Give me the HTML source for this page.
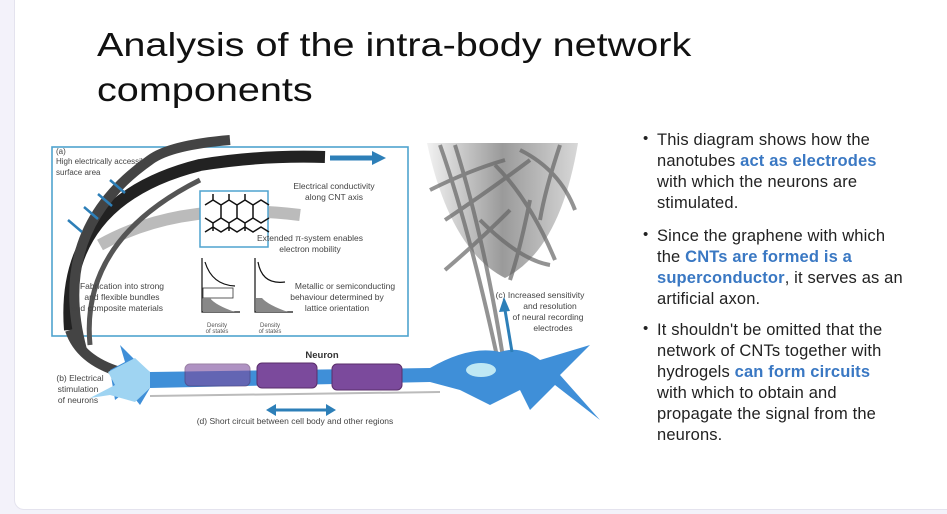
<!DOCTYPE html>
<html><head><meta charset="utf-8"><style>
html,body{margin:0;padding:0;}
body{width:947px;height:514px;background:#f3f2fa;position:relative;overflow:hidden;font-family:"Liberation Sans",sans-serif;}
.card{position:absolute;left:14px;top:-10px;width:960px;height:518px;background:#fff;border-radius:10px;border:1px solid #e4e3ee;}
.title{position:absolute;left:97px;top:22px;font-size:33px;line-height:45px;color:#111;transform:scaleX(1.2);transform-origin:0 0;white-space:nowrap;}
.txt{position:absolute;left:657px;font-size:16.5px;letter-spacing:0.15px;line-height:21px;color:#222;white-space:nowrap;}
.txt b{color:#3a78c3;}
.bul{position:absolute;left:643px;font-size:15px;color:#222;}
svg{position:absolute;left:0;top:0;}
</style></head><body>
<div class="card"></div>
<div class="title">Analysis of the intra-body network<br>components</div>

<div class="bul" style="top:130px">•</div>
<div class="txt" style="top:130px">This diagram shows how the<br>nanotubes <b>act as electrodes</b><br>with which the neurons are<br>stimulated.</div>
<div class="bul" style="top:226px">•</div>
<div class="txt" style="top:226px">Since the graphene with which<br>the <b>CNTs are formed is a<br>superconductor</b>, it serves as an<br>artificial axon.</div>
<div class="bul" style="top:320px">•</div>
<div class="txt" style="top:320px">It shouldn't be omitted that the<br>network of CNTs together with<br>hydrogels <b>can form circuits</b><br>with which to obtain and<br>propagate the signal from the<br>neurons.</div>

<svg width="947" height="514" viewBox="0 0 947 514" font-family="Liberation Sans, sans-serif">
<defs>
<linearGradient id="cone" x1="0" x2="1" y1="0" y2="0"><stop offset="0" stop-color="#f2f2f2"/><stop offset="0.5" stop-color="#9a9a9a"/><stop offset="1" stop-color="#d8d8d8"/></linearGradient>
</defs>
<path d="M427,143 L578,143 Q560,250 505,278 Q450,250 427,143Z" fill="url(#cone)"/>
<g stroke="#666" stroke-width="4" fill="none" opacity="0.7">
<path d="M440,145 Q470,230 500,370"/><path d="M455,145 Q485,240 505,370"/>
<path d="M430,190 Q470,170 505,160"/><path d="M445,220 Q490,190 530,160"/>
<path d="M445,270 Q480,240 510,210"/><path d="M520,150 Q560,170 575,210"/>
<path d="M495,165 Q530,200 555,260"/><path d="M480,220 Q520,260 550,265"/>
<path d="M530,200 Q520,250 510,280"/><path d="M560,145 Q545,190 540,220"/>
</g>
<rect x="52" y="147" width="356" height="189" fill="#fff" fill-opacity="0.6" stroke="#4fa3cf" stroke-width="1.6"/>
<path d="M100,245 Q180,200 300,215" stroke="#bbb" stroke-width="12" fill="none"/>
<g fill="none" stroke="#222">
<path d="M70,330 Q60,200 200,165 Q260,155 325,157" stroke-width="12"/>
<path d="M82,350 Q50,230 150,160 Q170,145 230,140" stroke-width="10" stroke="#444"/>
<path d="M90,345 Q80,240 200,180" stroke-width="5" stroke="#555"/>
<path d="M70,330 Q80,360 120,372" stroke-width="10" stroke="#444"/>
</g>
<path d="M330,158 L372,158" stroke="#2d7fb8" stroke-width="5"/><polygon points="372,151 386,158 372,165" fill="#2d7fb8"/>
<g stroke="#2d7fb8" stroke-width="2.5"><line x1="110" y1="180" x2="125" y2="193"/><line x1="98" y1="194" x2="112" y2="206"/><line x1="84" y1="207" x2="98" y2="219"/><line x1="68" y1="220" x2="82" y2="232"/></g>
<rect x="200" y="191" width="68" height="56" fill="#fff" stroke="#4fa3cf" stroke-width="1.5"/>
<g stroke="#111" stroke-width="1.5" fill="none">
<path d="M205,205 l8,-5 8,5 8,-5 8,5 8,-5 8,5 8,-5 8,5 M205,218 l8,5 8,-5 8,5 8,-5 8,5 8,-5 8,5 8,-5 M205,232 l8,-5 8,5 8,-5 8,5 8,-5 8,5 8,-5 8,5 M213,200v-6 M229,200v-6 M245,200v-6 M213,223v8 M229,223v8 M245,223v8 M221,205v13 M237,205v13 M253,205v13"/>
</g>
<g stroke="#111" fill="none" stroke-width="1.2">
<path d="M202,258 V312 H240"/><path d="M255,258 V312 H293"/>
<path d="M205,262 Q212,285 235,286"/><path d="M258,262 Q262,285 285,282"/>
</g>
<rect x="203" y="288" width="30" height="10" fill="none" stroke="#333" stroke-width="0.8"/>
<path d="M203,298 V312 H235 Q215,305 210,298Z" fill="#888"/>
<path d="M256,298 V312 H288 Q268,305 262,298Z" fill="#888"/>
<g font-size="8.5" fill="#444" text-anchor="middle">
<text x="122" y="289">Fabrication into strong</text><text x="122" y="300">and flexible bundles</text><text x="117" y="311">and composite materials</text>
<text x="334" y="189">Electrical conductivity</text><text x="334" y="200">along CNT axis</text>
<text x="310" y="241">Extended π-system enables</text><text x="310" y="252">electron mobility</text>
<text x="345" y="289">Metallic or semiconducting</text><text x="337" y="300">behaviour determined by</text><text x="337" y="311">lattice orientation</text>
<text x="540" y="298">(c) Increased sensitivity</text><text x="550" y="309">and resolution</text><text x="548" y="320">of neural recording</text><text x="553" y="331">electrodes</text>
<text x="80" y="381">(b) Electrical</text><text x="78" y="392">stimulation</text><text x="78" y="403">of neurons</text>
<text x="295" y="424">(d) Short circuit between cell body and other regions</text>
</g>
<g font-size="6" fill="#555" text-anchor="middle"><text x="217" y="327">Density</text><text x="217" y="333">of states</text><text x="270" y="327">Density</text><text x="270" y="333">of states</text></g>
<g font-size="8" fill="#444"><text x="56" y="154">(a)</text><text x="56" y="164">High electrically accessible</text><text x="56" y="175">surface area</text></g>
<text x="322" y="358" font-size="9.5" font-weight="bold" fill="#333" text-anchor="middle">Neuron</text>
<path d="M110,370 L125,362 L120,345 L135,360 L150,372 L430,368 Q470,345 500,352 Q520,345 540,360 L590,345 L560,375 L600,420 L555,385 L530,410 L520,390 L490,405 L460,390 L430,382 L150,388 L140,405 L128,390 L115,400 Z" fill="#3f8fd8"/>
<path d="M108,372 L135,358 L150,372 L150,388 L135,402 L110,395 L90,398 L115,385Z" fill="#9fd4f2"/>
<ellipse cx="481" cy="370" rx="15" ry="7" fill="#bfe8f4"/>
<g fill="#7b4a9c" stroke="#5a2e6a" stroke-width="1"><rect x="185" y="364" width="65" height="22" rx="5" opacity="0.6"/><rect x="257" y="363" width="60" height="25" rx="5"/><rect x="332" y="364" width="70" height="26" rx="5"/></g>
<line x1="150" y1="396" x2="440" y2="392" stroke="#bbb" stroke-width="2"/>
<path d="M272,410 H330" stroke="#2d7fb8" stroke-width="3"/><polygon points="266,410 276,404 276,416" fill="#2d7fb8"/><polygon points="336,410 326,404 326,416" fill="#2d7fb8"/>
<path d="M512,352 L505,310" stroke="#2d7fb8" stroke-width="3"/><polygon points="499,312 504,297 510,311" fill="#2d7fb8"/>
</svg>
</body></html>
